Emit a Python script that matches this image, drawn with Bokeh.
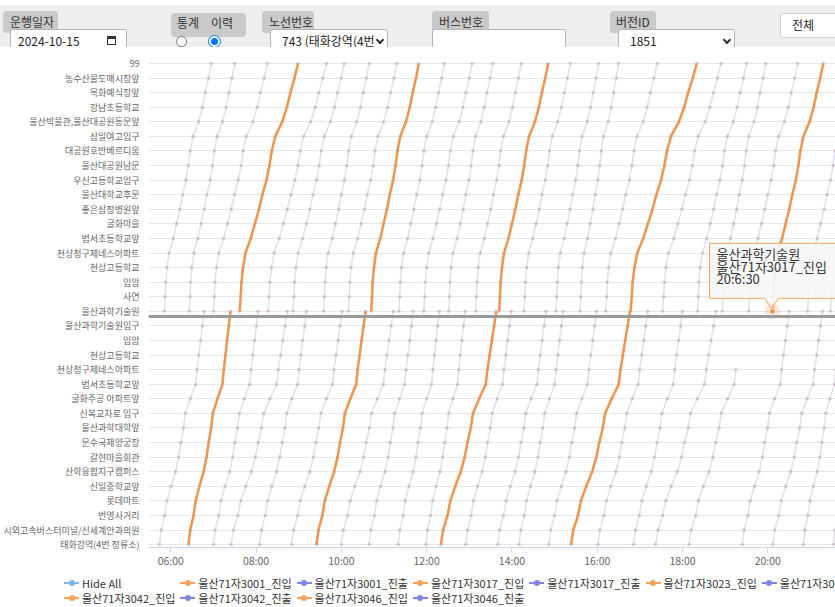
import numpy as np
from bokeh.plotting import figure
from bokeh.models import Range1d, FixedTicker, Span, Div
from bokeh.layouts import column
from bokeh.embed import file_html
from bokeh.resources import INLINE
from bokeh.core.properties import value

# ---------------- data ----------------
STOPS = ["99", "농수산물도매시장앞", "목화예식장앞", "강남초등학교", "울산박물관,울산대공원동문앞",
         "삼일여고입구", "대공원호반베르디움", "울산대공원남문", "우신고등학교입구", "울산대학교후문",
         "좋은삼정병원앞", "굴화마을", "범서초등학교앞", "천상청구제네스아파트", "천상고등학교",
         "입암", "사연", "울산과학기술원", "울산과학기술원입구", "입암", "천상고등학교",
         "천상청구제네스아파트", "범서초등학교앞", "굴화주공 아파트앞", "신복교차로 입구",
         "울산과학대학앞", "문수국제양궁장", "갈현마을회관", "산학융합지구캠퍼스", "신일중학교앞",
         "롯데마트", "번영사거리", "시외고속버스터미널/신세계안과의원", "태화강역(4번 정류소)"]

# share of running time reached at each stop (read from the highlighted trip)
PROG_IN = [0, .04, .12, .17, .26, .36, .43, .48, .54, .58, .69, .81, .84, .88, .92, .96, 1.0]          # 태화강역 -> 울산과학기술원
PROG_OUT = [0, .017, .03, .057, .10, .19, .26, .33, .39, .46, .51, .55, .61, .73, .81, .87, .94, 1.0]  # 울산과학기술원 -> 99

BUSES = ["울산71자3001", "울산71자3017", "울산71자3023", "울산71자3042", "울산71자3046"]

# trips 태화강역 -> 울산과학기술원 : (departure, arrival, last stop index reached)
IN_3001 = [("05:44", "06:47", 17), ("08:50", "10:01", 17), ("11:59", "12:54", 17), ("14:52", "15:59", 17), ("18:09", "19:15", 21), ("21:32", "22:35", 17)]
IN_3017 = [("06:25", "07:24", 17), ("09:25", "10:34", 17), ("12:20", "13:38", 17), ("15:23", "16:46", 17)]
IN_3023 = [("07:00", "08:03", 17), ("10:00", "11:13", 17), ("12:55", "13:59", 17), ("16:01", "17:11", 17), ("19:24", "20:30", 17)]
IN_3042 = [("07:25", "08:44", 17), ("10:39", "11:41", 17), ("13:40", "14:48", 17), ("16:51", "18:00", 17), ("20:07", "21:17", 17)]
IN_3046 = [("08:05", "09:11", 17), ("11:20", "12:18", 17), ("14:10", "15:12", 17), ("17:22", "18:47", 17), ("20:50", "21:44", 17)]

# trips 울산과학기술원 -> 99 : (departure, arrival)
OUT_3001 = [("07:00", "08:16"), ("10:10", "11:18"), ("13:09", "14:13"), ("16:12", "17:24"), ("19:33", "20:42")]
OUT_3017 = [("07:37", "08:59"), ("10:42", "11:49"), ("13:42", "14:51"), ("16:47", "18:20"), ("20:06:30", "21:18")]
OUT_3023 = [("08:17", "09:39"), ("11:21", "12:25"), ("14:17", "15:22"), ("17:32", "18:54"), ("20:56", "22:06")]
OUT_3042 = [("05:51", "06:57"), ("08:52", "10:04"), ("11:56", "13:04"), ("15:02", "16:02"), ("18:21", "19:30"), ("21:28", "22:36")]
OUT_3046 = [("06:26", "07:30"), ("09:35", "10:39"), ("12:31", "13:33"), ("15:36", "16:30"), ("18:56", "19:57")]

IN_TRIPS = [IN_3001, IN_3017, IN_3023, IN_3042, IN_3046]
OUT_TRIPS = [OUT_3001, OUT_3017, OUT_3023, OUT_3042, OUT_3046]

X_TICKS = [6, 8, 10, 12, 14, 16, 18, 20]
X_LABELS = ["06:00", "08:00", "10:00", "12:00", "14:00", "16:00", "18:00", "20:00"]

TIP_STOP = "울산과학기술원"
TIP_SERIES = "울산71자3017_진입"
TIP_TIME = "20:6:30"
TIP_AT = "20:06:30"

# ---------------- helpers ----------------
def hrs(s):
    parts = [float(v) for v in s.split(":")]
    while len(parts) < 3:
        parts.append(0.0)
    return parts[0] + parts[1] / 60 + parts[2] / 3600


def in_trip(dep, arr, last):
    ks = list(range(33, last - 1, -1))
    p_last = PROG_IN[33 - last]
    t0, t1 = hrs(dep), hrs(arr)
    xs = [t0 + (t1 - t0) * PROG_IN[33 - k] / p_last for k in ks]
    return xs, ks


def out_trip(dep, arr):
    ks = list(range(17, -1, -1))
    t0, t1 = hrs(dep), hrs(arr)
    xs = [t0 + (t1 - t0) * PROG_OUT[17 - k] for k in ks]
    return xs, ks


ORANGE = "#f7a35c"
ORANGE_HI = "#f0944f"
PURPLE = "#8085e9"
BLUE = "#7cb5ec"
KFONT = "Noto Sans CJK KR"

PX_H = 42.71   # pixels per hour
PX_K = 14.58   # pixels per stop row

# ---------------- figure ----------------
p = figure(width=835, height=524, output_backend="svg", toolbar_location=None,
           x_range=Range1d(5.478, 5.478 + 688 / PX_H), y_range=Range1d(33.2, -0.41),
           min_border_left=147, min_border_right=0, min_border_top=10, min_border_bottom=24)
p.outline_line_color = None
p.background_fill_color = "white"
p.border_fill_color = "white"

p.yaxis.ticker = FixedTicker(ticks=list(range(len(STOPS))))
p.yaxis.major_label_overrides = {i: s for i, s in enumerate(STOPS)}
p.yaxis.axis_line_color = None
p.yaxis.major_tick_line_color = None
p.yaxis.minor_tick_line_color = None
p.yaxis.major_tick_in = 0
p.yaxis.major_tick_out = 0
p.yaxis.major_label_standoff = 9
p.yaxis.major_label_text_font = KFONT
p.yaxis.major_label_text_font_size = "9px"
p.yaxis.major_label_text_color = "#666666"

p.xaxis.ticker = FixedTicker(ticks=X_TICKS)
p.xaxis.major_label_overrides = dict(zip(X_TICKS, X_LABELS))
p.xaxis.axis_line_color = "#ccd6eb"
p.xaxis.major_tick_line_color = "#ccd6eb"
p.xaxis.minor_tick_line_color = None
p.xaxis.major_tick_in = 0
p.xaxis.major_tick_out = 5
p.xaxis.major_label_standoff = 0
p.xaxis.major_label_text_font = KFONT
p.xaxis.major_label_text_font_size = "10.5px"
p.xaxis.major_label_text_color = "#666666"

p.xgrid.visible = False
p.ygrid.ticker = FixedTicker(ticks=list(range(len(STOPS))))
p.ygrid.grid_line_color = "#e6e6e6"

# thick separator line
p.add_layout(Span(location=17.35, dimension="width", line_color="#999999", line_width=3))

# faded series
for b, bus in enumerate(BUSES):
    xs_all, ys_all = [], []
    for dep, arr, last in IN_TRIPS[b]:
        xs, ks = in_trip(dep, arr, last)
        xs_all.append(xs); ys_all.append(ks)
    for dep, arr in OUT_TRIPS[b]:
        xs, ks = out_trip(dep, arr)
        xs_all.append(xs); ys_all.append(ks)
    flat_x = [v for t in xs_all for v in t]
    flat_y = [v for t in ys_all for v in t]
    if bus != "울산71자3017":   # 진입 (faded)
        p.multi_line(xs_all, ys_all, line_color=ORANGE, line_alpha=0.12, line_width=1.5)
    p.multi_line(xs_all, ys_all, line_color=PURPLE, line_alpha=0.2, line_width=1.5)   # 진출 (faded)
    p.scatter(flat_x, flat_y, size=3.5, fill_color=PURPLE, line_color=None, fill_alpha=0.28)
    p.scatter(flat_x, flat_y, size=3, fill_color=ORANGE, line_color=None, fill_alpha=0.25)

# highlighted series 울산71자3017_진입
hx, hy = [], []
for dep, arr, last in IN_3017:
    xs, ks = in_trip(dep, arr, last)
    hx.append(xs); hy.append(ks)
for dep, arr in OUT_3017:
    xs, ks = out_trip(dep, arr)
    hx.append(xs); hy.append(ks)
p.multi_line(hx, hy, line_color=ORANGE_HI, line_width=2.5)

# tooltip at the hovered point
tx, ty = hrs(TIP_AT), STOPS.index(TIP_STOP)
p.scatter([tx], [ty], size=16, fill_color=ORANGE, fill_alpha=0.25, line_color=None)
p.scatter([tx], [ty], size=6, fill_color=ORANGE_HI, line_color="white", line_width=1)


def dx(px):
    return tx + px / PX_H


def dy(px):
    return ty + px / PX_K


poly_x = [dx(-63), dx(90), dx(90), dx(6), dx(-1), dx(-8), dx(-63)]
poly_y = [dy(-68), dy(-68), dy(-13), dy(-13), dy(-3), dy(-13), dy(-13)]
p.patch(poly_x, poly_y, fill_color="#f7f7f7", fill_alpha=0.92, line_color=ORANGE, line_width=1)
p.text([dx(-56)] * 3, [dy(-58), dy(-45), dy(-32.5)], text=[TIP_STOP, TIP_SERIES, TIP_TIME],
       text_font=value(KFONT), text_font_size="13px", text_color="#333333",
       text_baseline="middle", text_align="left")


# ---------------- html helpers ----------------
def blk(l, t, w, h, extra=""):
    return (f'<div style="position:absolute;left:{l}px;top:{t}px;width:{w}px;height:{h}px;'
            f'box-sizing:border-box;{extra}"></div>')


def txt(l, cy, s, size=12, color="#333"):
    return (f'<div style="position:absolute;left:{l}px;top:{cy - size * 0.5}px;font-size:{size}px;'
            f'line-height:{size}px;color:{color};white-space:nowrap;">{s}</div>')


def wrap(w, h, inner, bg="#fff"):
    return (f'<div style="position:relative;width:{w}px;height:{h}px;overflow:hidden;background:{bg};'
            f'font-family:\'{KFONT}\',sans-serif;">' + inner + "</div>")


# ---------------- header (form bar) ----------------
LBL = "background:#c9c9c9;border-radius:4px;"
INP = "background:#fff;border:1px solid #b5b5b5;border-radius:2px;"
CHEV = "border-right:2px solid #333;border-bottom:2px solid #333;transform:rotate(45deg);"
parts = [blk(0, 5, 835, 42, "background:#eeeeee;")]
parts += [blk(3, 11, 55, 22, LBL), txt(10, 21.5, "운행일자")]
parts += [blk(10, 29, 117, 24, INP), txt(18, 40.5, "2024-10-15", 12, "#222"),
          blk(107, 36, 9, 9, "border:1.5px solid #333;border-top-width:3px;")]
parts += [blk(171, 13, 75, 24, LBL), txt(177, 22.5, "통계"), txt(211, 22.5, "이력"),
          blk(176, 36, 11, 11, "border:1px solid #767676;border-radius:50%;background:#fff;"),
          blk(208, 35, 13, 13, "border:1px solid #0075ff;border-radius:50%;background:#fff;"),
          blk(211, 38, 7, 7, "border-radius:50%;background:#0075ff;")]
parts += [blk(262, 11, 52, 22, LBL), txt(269, 21.5, "노선번호")]
parts += [blk(270, 29, 118, 24, INP + "border-radius:3px;"), txt(282, 40.5, "743 (태화강역(4번", 12, "#222"),
          blk(377, 37, 6, 6, CHEV)]
parts += [blk(432, 11, 57, 22, LBL), txt(439, 21.5, "버스번호")]
parts += [blk(432, 29, 134, 22, INP)]
parts += [blk(610, 11, 46, 22, LBL), txt(616, 21.5, "버전ID")]
parts += [blk(618, 29, 117, 24, INP + "border-radius:3px;"), txt(630, 40.5, "1851", 12, "#222"),
          blk(724, 37, 6, 6, CHEV)]
parts += [blk(780, 13, 70, 25, "background:#fff;border:1px solid #cfcfcf;border-radius:3px;"),
          txt(792, 25, "전체", 12, "#222")]
header = Div(text=wrap(835, 47, "".join(parts)), width=835, height=47, margin=0)

# ---------------- legend ----------------
LEG_LABELS = ["Hide All"] + [b + s for b in BUSES for s in ("_진입", "_진출")]
LEG_COLORS = [BLUE] + [c for _ in BUSES for c in (ORANGE, PURPLE)]
leg = []
for i, (lab, col) in enumerate(zip(LEG_LABELS, LEG_COLORS)):
    row, c = divmod(i, 7)
    x0 = 64 + c * 116.3
    cy = 12 + row * 15
    leg.append(blk(x0, cy - 1, 15, 2, f"background:{col};"))
    leg.append(blk(x0 + 4.5, cy - 3, 6, 6, f"background:{col};border-radius:50%;"))
    leg.append(txt(x0 + 18, cy, lab, 11, "#333"))
legend_div = Div(text=wrap(835, 36, "".join(leg)), width=835, height=36, margin=0)

layout = column(header, p, legend_div, spacing=0)
open("out.html", "w").write(file_html(layout, INLINE))
